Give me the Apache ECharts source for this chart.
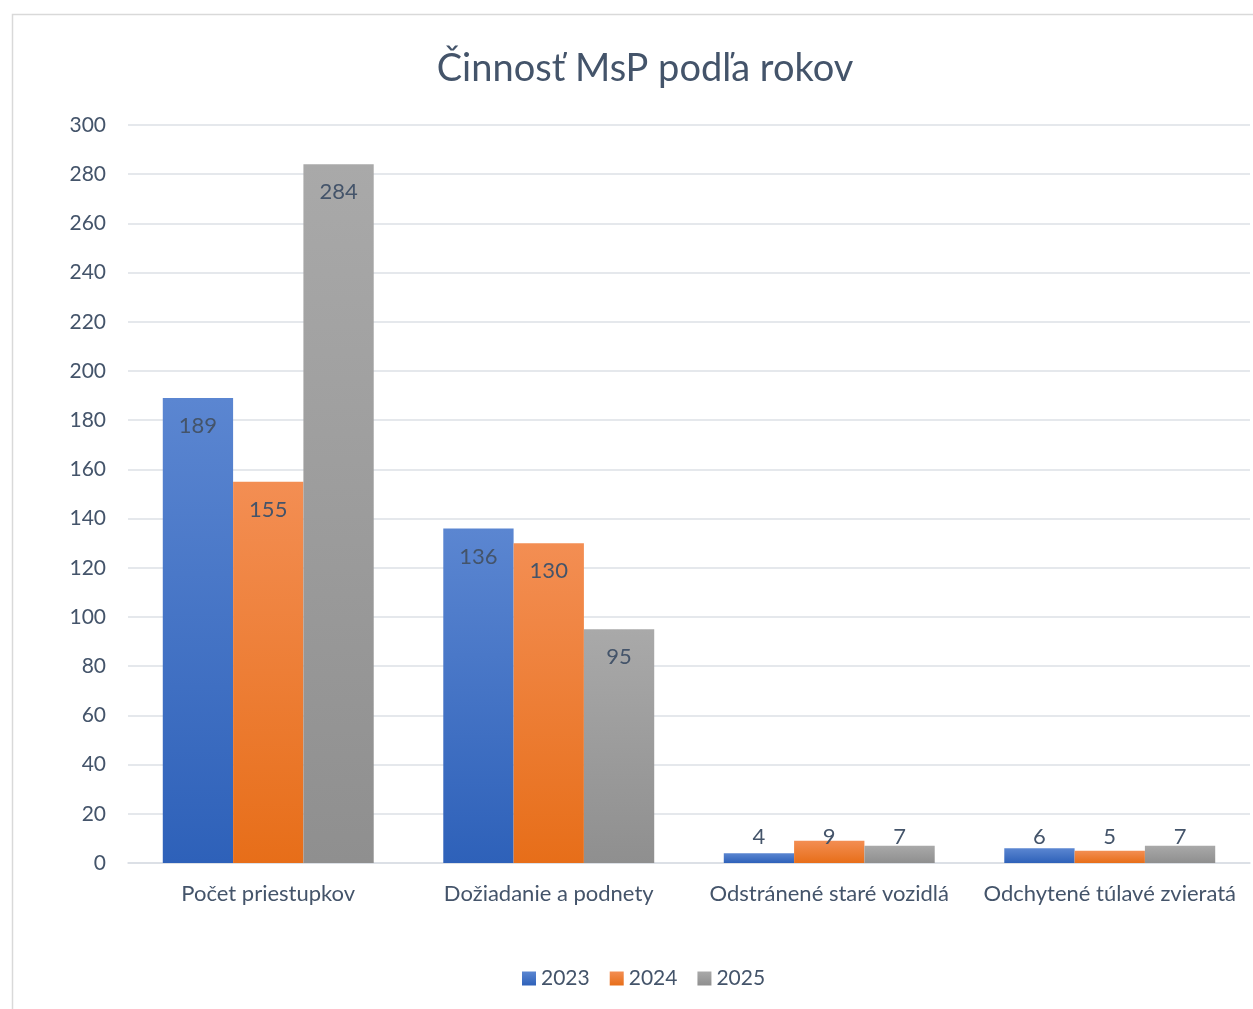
<!DOCTYPE html>
<html>
<head>
<meta charset="utf-8">
<script src="https://cdn.jsdelivr.net/npm/echarts@6/dist/echarts.min.js"></script>
<style>
html,body{margin:0;padding:0;background:#fff;}
#chart{width:1253px;height:1009px;}
</style>
</head>
<body>
<div id="chart"></div>
<script>
const categories = ['Počet priestupkov', 'Dožiadanie a podnety', 'Odstránené staré vozidlá', 'Odchytené túlavé zvieratá'];
const years = ['2023', '2024', '2025'];
const values2023 = [189, 136, 4, 6];
const values2024 = [155, 130, 9, 5];
const values2025 = [284, 95, 7, 7];
const yTicks = { min: 0, max: 300, interval: 20 };

const FONT = 'Lato';
const TXT = '#44546a';
const grads = [
  ['#5b86d1', '#2e61b9'],
  ['#f38e53', '#e76e19'],
  ['#a9a9a9', '#8f8f8f']
];
function grad(c) {
  return new echarts.graphic.LinearGradient(0, 0, 0, 1, [
    { offset: 0, color: c[0] }, { offset: 1, color: c[1] }
  ]);
}
function mkData(arr) {
  return arr.map(v => v < 20 ? {
    value: v,
    label: { position: 'insideBottom', distance: 15 }
  } : { value: v });
}
const seriesVals = [values2023, values2024, values2025];

const chart = echarts.init(document.getElementById('chart'));
chart.setOption({
  animation: false,
  backgroundColor: '#fff',
  textStyle: { fontFamily: FONT },
  graphic: [{
    type: 'rect', left: 10, top: 12,
    shape: { width: 1400, height: 1200 },
    style: { fill: 'none', stroke: '#d9d9d9', lineWidth: 1.5 },
    z: -10
  }],
  title: {
    text: 'Činnosť MsP podľa rokov',
    left: 640, top: 45, textAlign: 'center',
    textStyle: { fontFamily: FONT, fontSize: 38, fontWeight: 'normal', color: TXT }
  },
  legend: {
    data: years,
    top: 963,
    left: 517,
    itemWidth: 14, itemHeight: 14, itemGap: 20,
    icon: 'rect',
    textStyle: { fontFamily: FONT, fontSize: 21, color: TXT, padding: [0, 0, 0, 0] }
  },
  grid: { left: 128, right: 3, top: 125, bottom: 146, containLabel: false },
  xAxis: {
    type: 'category',
    data: categories,
    axisLine: { show: true, lineStyle: { color: '#d9dde3', width: 1.5 } },
    axisTick: { show: false },
    axisLabel: { fontFamily: FONT, fontSize: 22, color: TXT, margin: 20, interval: 0 }
  },
  yAxis: {
    type: 'value',
    min: yTicks.min, max: yTicks.max, interval: yTicks.interval,
    axisLine: { show: false },
    axisTick: { show: false },
    axisLabel: { fontFamily: FONT, fontSize: 21, color: TXT, margin: 22 },
    splitLine: { lineStyle: { color: '#dde1e6', width: 1.5 } }
  },
  series: years.map((y, i) => ({
    name: y,
    type: 'bar',
    data: mkData(seriesVals[i]),
    barGap: '0%',
    barCategoryGap: '24.8%',
    itemStyle: { color: grad(grads[i]) },
    label: {
      show: true,
      position: 'insideTop',
      distance: 17,
      fontFamily: FONT,
      fontSize: 22,
      color: TXT
    }
  }))
});
</script>
</body>
</html>
